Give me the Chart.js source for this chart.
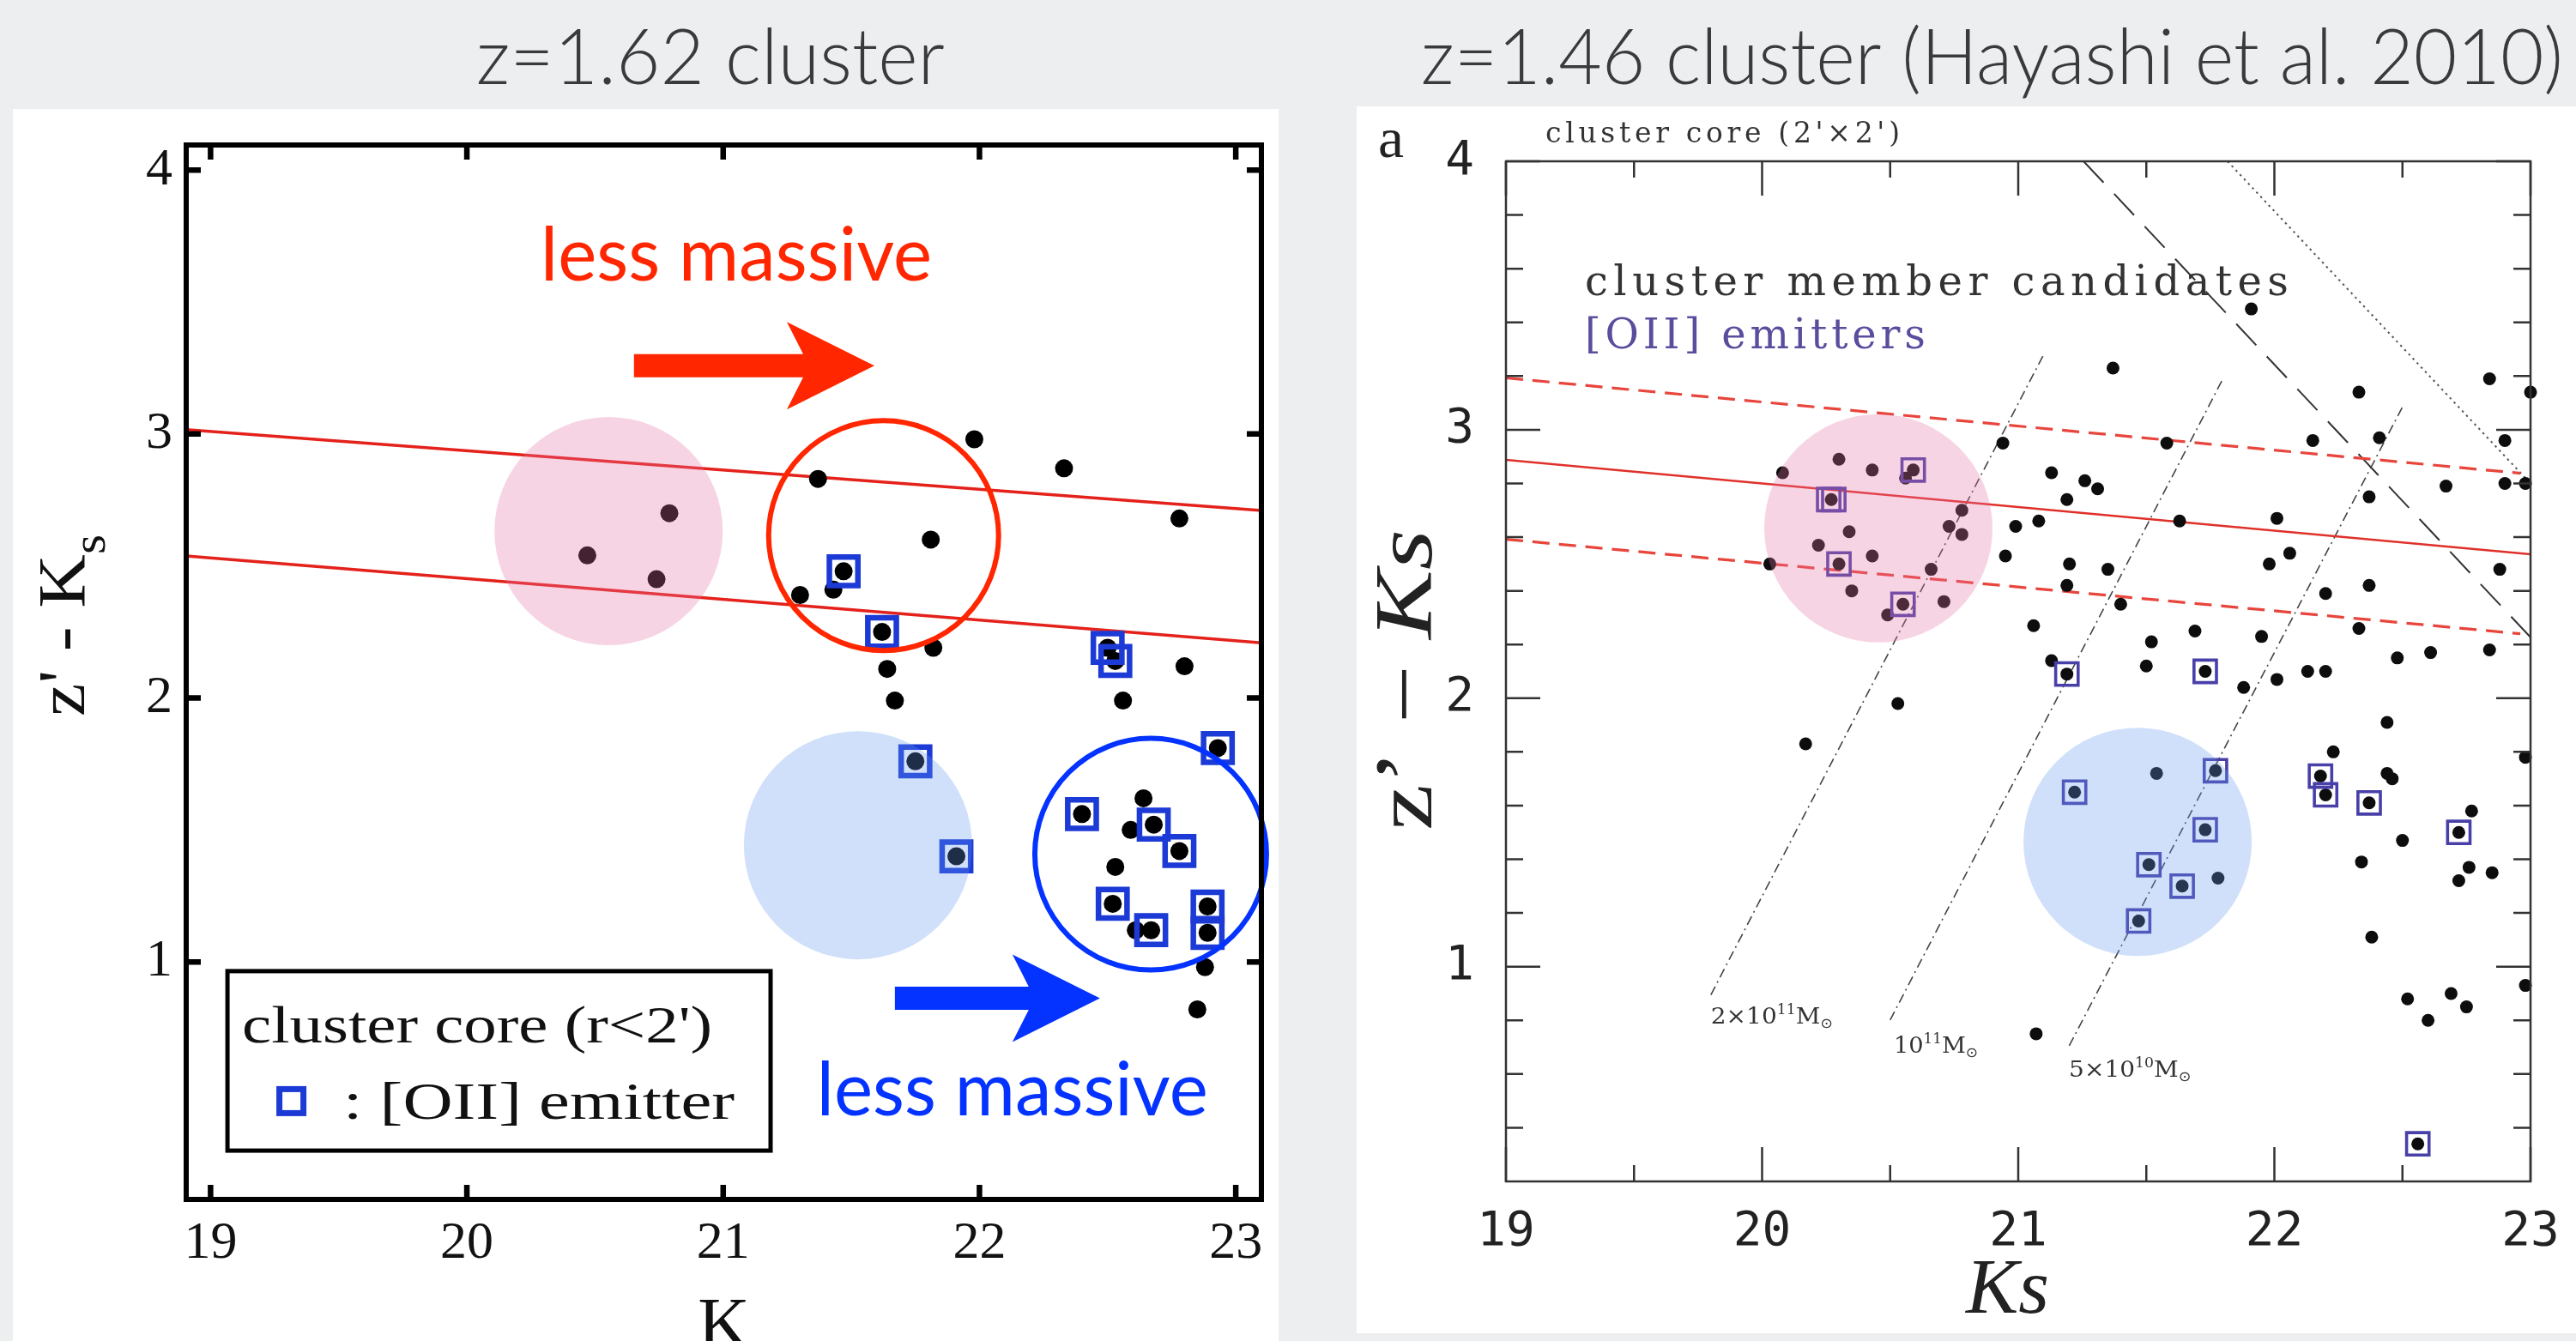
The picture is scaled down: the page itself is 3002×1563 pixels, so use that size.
<!DOCTYPE html>
<html>
<head>
<meta charset="utf-8">
<title>z' − Ks colour–magnitude diagrams</title>
<script src="https://cdn.jsdelivr.net/npm/chart.js@4.4.1/dist/chart.umd.min.js"></script>
<style>
  html, body { margin: 0; padding: 0; width: 3002px; height: 1563px; overflow: hidden; background: #eceef0; }
  #bg { position: absolute; left: 0; top: 0; }
  .panel { position: absolute; background: #fff; }
  #panelA { left: 15px; top: 127px; width: 1475px; height: 1436px; }
  #panelB { left: 1581px; top: 124px; width: 1421px; height: 1430px; }
  canvas { display: block; }
</style>
</head>
<body>
<canvas id="bg" width="3002" height="1563"></canvas>
<div class="panel" id="panelA"><canvas id="chartA" width="1475" height="1436"></canvas></div>
<div class="panel" id="panelB"><canvas id="chartB" width="1421" height="1430"></canvas></div>
<script>
// ================= z = 1.62 cluster =================
const kTicksA = [19, 20, 21, 22, 23];
const colourTicksA = [1, 2, 3, 4];

// cluster-core members (K, z'-Ks)
const memberK_A = [20.79, 20.47, 20.74, 21.98, 22.33, 21.37, 22.78, 21.81, 21.47, 21.43,
                   21.30, 21.62, 21.82, 22.50, 22.53, 22.80, 21.64, 21.67, 22.56, 21.75,
                   21.91, 22.93, 22.64, 22.40, 22.59, 22.68, 22.78, 22.53, 22.52, 22.61,
                   22.67, 22.89, 22.89, 22.88, 22.85];
const memberColour_A = [2.70, 2.54, 2.45, 2.98, 2.87, 2.83, 2.68, 2.60, 2.48, 2.41,
                        2.39, 2.25, 2.19, 2.19, 2.14, 2.12, 2.11, 1.99, 1.99, 1.76,
                        1.40, 1.81, 1.62, 1.56, 1.50, 1.52, 1.42, 1.36, 1.22, 1.12,
                        1.12, 1.21, 1.11, 0.98, 0.82];

// [OII] emitters
const oiiK_A = [21.47, 21.62, 22.50, 22.53, 21.75, 21.91, 22.93, 22.40, 22.68, 22.78, 22.52, 22.67, 22.89, 22.89];
const oiiColour_A = [2.48, 2.25, 2.19, 2.14, 1.76, 1.40, 1.81, 1.56, 1.52, 1.42, 1.22, 1.12, 1.21, 1.11];

// red-sequence band edges
const bandUpperK_A = [18.905, 23.1];
const bandUpperColour_A = [3.017, 2.71];
const bandLowerK_A = [18.905, 23.1];
const bandLowerColour_A = [2.538, 2.209];

// highlighted regions: massive red, faint blue star-forming, and their outlines
const shadeK_A = [20.553, 21.526];
const shadeColour_A = [2.632, 1.442];
const ringK_A = [21.626, 22.668];
const ringColour_A = [2.615, 1.408];

// ================= z = 1.46 cluster (Hayashi et al. 2010) =================
const kTicksB = [19, 20, 21, 22, 23];
const kMinorB = [19.5, 20.5, 21.5, 22.5];
const colourTicksB = [1, 2, 3, 4];
const colourMinorB = [0.4, 0.6, 0.8, 1.2, 1.4, 1.6, 1.8, 2.2, 2.4, 2.6, 2.8, 3.2, 3.4, 3.6, 3.8];

const memberK_B = [
  20.08, 20.30, 20.43, 20.59, 20.56, 20.27, 20.34, 20.22, 20.43, 20.30, 20.03, 20.35, 20.55, 20.49,
  20.66, 20.73, 20.78, 20.78, 20.71, 20.53, 20.17,
  21.91, 21.37, 22.84, 23.00, 22.33, 20.94, 21.58, 22.15, 22.41, 22.90, 21.13, 21.26, 21.31, 21.19,
  22.67, 22.90, 22.98, 22.37, 20.99, 21.08, 21.63, 22.01, 20.95, 21.20, 21.35, 22.06, 21.98, 22.88,
  21.19, 22.37, 22.20, 21.40, 21.06, 21.52, 21.69, 21.95, 22.33, 22.48, 22.61, 22.84, 21.13, 21.19,
  21.50, 21.73, 21.88, 22.01, 22.13, 22.20,
  22.18, 22.20, 22.23, 22.44, 22.44, 22.46, 22.37, 22.34, 22.50, 22.77, 22.72, 22.76, 22.72, 22.85,
  22.98, 22.38, 22.98, 22.52, 22.60, 22.69, 22.75, 21.07, 22.56,
  21.22, 21.54, 21.77, 21.73, 21.51, 21.78, 21.64, 21.47];
const memberColour_B = [
  2.84, 2.89, 2.85, 2.85, 2.82, 2.74, 2.62, 2.57, 2.53, 2.50, 2.50, 2.40, 2.35, 2.31,
  2.48, 2.64, 2.70, 2.61, 2.36, 1.98, 1.83,
  3.45, 3.23, 3.19, 3.14, 3.14, 2.95, 2.95, 2.96, 2.97, 2.96, 2.84, 2.81, 2.78, 2.74,
  2.79, 2.80, 2.80, 2.75, 2.64, 2.66, 2.66, 2.67, 2.53, 2.50, 2.48, 2.54, 2.50, 2.48,
  2.42, 2.42, 2.39, 2.35, 2.27, 2.21, 2.25, 2.23, 2.26, 2.15, 2.17, 2.18, 2.14, 2.09,
  2.12, 2.10, 2.04, 2.07, 2.10, 2.10,
  1.71, 1.64, 1.80, 1.91, 1.72, 1.70, 1.61, 1.39, 1.47, 1.58, 1.50, 1.37, 1.32, 1.35,
  1.78, 1.11, 0.93, 0.88, 0.80, 0.90, 0.85, 0.75, 0.34,
  1.65, 1.72, 1.73, 1.51, 1.38, 1.33, 1.30, 1.17];

const oiiK_B = [20.59, 20.26, 20.28, 20.30, 20.55, 21.19, 21.73, 22.18, 22.20, 22.37, 22.72, 22.56,
                21.22, 21.77, 21.73, 21.51, 21.64, 21.47];
const oiiColour_B = [2.85, 2.74, 2.74, 2.50, 2.35, 2.09, 2.10, 1.71, 1.64, 1.61, 1.50, 0.34,
                     1.65, 1.73, 1.51, 1.38, 1.30, 1.17];

// red-sequence fit and its scatter
const seqK_B = [19, 23];
const seqColour_B = [2.888, 2.536];
const seqUpperK_B = [19, 22.96];
const seqUpperColour_B = [3.193, 2.838];
const seqLowerK_B = [19, 22.96];
const seqLowerColour_B = [2.592, 2.240];

// model tracks of constant stellar mass
const track2e11K = [19.80, 21.096];
const track2e11Colour = [0.895, 3.274];
const track1e11K = [20.50, 21.797];
const track1e11Colour = [0.801, 3.186];
const track5e10K = [21.199, 22.499];
const track5e10Colour = [0.705, 3.083];

// completeness limits
const limitDashK = [21.255, 23.0];
const limitDashColour = [4.0, 2.227];
const limitDotK = [21.817, 23.0];
const limitDotColour = [4.0, 2.80];

// highlighted regions
const shadeK_B = [20.454, 21.466];
const shadeColour_B = [2.633, 1.465];

// ---------------------------------------------------------------------------
const pts = (xs, ys) => xs.map((x, i) => ({ x, y: ys[i] }));
const SERIF = '"Liberation Serif", "Times New Roman", serif';
const PINK = 'rgba(229,114,163,0.30)';
const SKY = 'rgba(100,152,238,0.30)';
const REGION_R = 133;

function fitText(ctx, text, x, y, w, font, color) {
  ctx.save();
  ctx.font = font;
  ctx.fillStyle = color;
  ctx.textBaseline = 'alphabetic';
  ctx.textAlign = 'left';
  const nat = ctx.measureText(text).width;
  ctx.translate(x, y);
  ctx.scale(w / nat, 1);
  ctx.fillText(text, 0, 0);
  ctx.restore();
}

function spacedText(ctx, text, x, y, w, font, color) {
  ctx.save();
  ctx.font = font;
  ctx.fillStyle = color;
  ctx.textBaseline = 'alphabetic';
  ctx.textAlign = 'left';
  ctx.letterSpacing = '0px';
  const nat = ctx.measureText(text).width;
  const sp = (w - nat) / Math.max(1, text.length - 1);
  if (sp >= 0) {
    ctx.letterSpacing = sp + 'px';
    ctx.fillText(text, x, y);
  } else {
    ctx.translate(x, y);
    ctx.scale(w / nat, 1);
    ctx.fillText(text, 0, 0);
  }
  ctx.restore();
}

// text made of runs with their own font and vertical shift, optionally rotated
function runsText(ctx, runs, x, y, opts) {
  ctx.save();
  ctx.fillStyle = opts.color || '#000';
  ctx.textBaseline = 'alphabetic';
  ctx.textAlign = 'left';
  let total = 0;
  const widths = runs.map(r => { ctx.font = r.font; const w = ctx.measureText(r.t).width; total += w; return w; });
  ctx.translate(x, y);
  if (opts.rot) ctx.rotate(opts.rot);
  if (opts.width) ctx.scale(opts.width / total, 1);
  let cx = 0;
  runs.forEach((r, i) => { ctx.font = r.font; ctx.fillText(r.t, cx, r.dy || 0); cx += widths[i]; });
  ctx.restore();
}

function drawArrow(ctx, x0, x1, y, color) {
  const half = 13.5, back = 102, notch = 83, wing = 51;
  ctx.save();
  ctx.fillStyle = color;
  ctx.beginPath();
  ctx.moveTo(x0, y - half);
  ctx.lineTo(x1 - notch, y - half);
  ctx.lineTo(x1 - back, y - wing);
  ctx.lineTo(x1, y);
  ctx.lineTo(x1 - back, y + wing);
  ctx.lineTo(x1 - notch, y + half);
  ctx.lineTo(x0, y + half);
  ctx.closePath();
  ctx.fill();
  ctx.restore();
}

function fixedAxis(min, max, ticks, fit, font, color, pad) {
  return {
    type: 'linear', min, max,
    afterBuildTicks: s => { s.ticks = ticks.map(v => ({ value: v })); },
    afterFit: s => {
      if (s.isHorizontal()) s.height = fit; else s.width = fit;
      s.paddingLeft = 0; s.paddingRight = 0; s.paddingTop = 0; s.paddingBottom = 0;
    },
    grid: { display: false, drawTicks: false },
    border: { display: false },
    ticks: { font, color, padding: pad, maxRotation: 0, autoSkip: false }
  };
}

// ---------- page titles ----------
(function () {
  const c = document.getElementById('bg').getContext('2d');
  c.fillStyle = '#eceef0';
  c.fillRect(0, 0, 3002, 1563);
  const f = '300 90px Lato, "Open Sans", sans-serif';
  fitText(c, 'z=1.62 cluster', 555, 98, 546, f, '#3a3a3a');
  fitText(c, 'z=1.46 cluster (Hayashi et al. 2010)', 1656, 98, 1331, f, '#3a3a3a');
})();

// ---------- left chart ----------
const notesA = {
  redArrow: { from: 20.652, to: 21.590, at: 3.259 },
  blueArrow: { from: 21.670, to: 22.470, at: 0.862 },
  redText: { k: 20.288, c: 3.581 },
  blueText: { k: 21.365, c: 0.418 },
  legend: { k0: 19.066, k1: 21.185, c0: 0.965, c1: 0.285 }
};

const decorA = {
  id: 'decorA',
  afterDatasetsDraw(chart) {
    const { ctx, scales: { x, y } } = chart;
    const X = v => x.getPixelForValue(v), Y = v => y.getPixelForValue(v);
    const n = notesA;
    drawArrow(ctx, X(n.redArrow.from), X(n.redArrow.to), Y(n.redArrow.at), '#ff2600');
    drawArrow(ctx, X(n.blueArrow.from), X(n.blueArrow.to), Y(n.blueArrow.at), '#0433ff');
    fitText(ctx, 'less massive', X(n.redText.k), Y(n.redText.c), 456, '400 88px Lato, sans-serif', '#ff2600');
    fitText(ctx, 'less massive', X(n.blueText.k), Y(n.blueText.c), 456, '400 88px Lato, sans-serif', '#0433ff');

    // legend box
    const L = X(n.legend.k0), R = X(n.legend.k1), T = Y(n.legend.c0), B = Y(n.legend.c1);
    ctx.save();
    ctx.fillStyle = '#fff';
    ctx.fillRect(L, T, R - L, B - T);
    ctx.lineWidth = 5;
    ctx.strokeStyle = '#000';
    ctx.strokeRect(L, T, R - L, B - T);
    ctx.restore();
    fitText(ctx, "cluster core (r<2')", L + 17, T + 83, 548, '62px ' + SERIF, '#111');
    ctx.save();
    ctx.strokeStyle = '#1c3ad6';
    ctx.lineWidth = 7;
    ctx.strokeRect(L + 74.5 - 14, T + 151.5 - 14, 28, 28);
    ctx.restore();
    fitText(ctx, ': [OII] emitter', L + 135, T + 172, 456, '62px ' + SERIF, '#111');
  },
  afterDraw(chart) {
    const { ctx, chartArea: a, scales: { x, y } } = chart;
    ctx.save();
    ctx.strokeStyle = '#000';
    ctx.lineWidth = 6;
    ctx.strokeRect(a.left, a.top, a.right - a.left, a.bottom - a.top);
    ctx.lineWidth = 6.5;
    ctx.beginPath();
    kTicksA.forEach(v => {
      const p = x.getPixelForValue(v);
      ctx.moveTo(p, a.bottom); ctx.lineTo(p, a.bottom - 17);
      ctx.moveTo(p, a.top); ctx.lineTo(p, a.top + 17);
    });
    colourTicksA.forEach(v => {
      const p = y.getPixelForValue(v);
      ctx.moveTo(a.left, p); ctx.lineTo(a.left + 17, p);
      ctx.moveTo(a.right, p); ctx.lineTo(a.right - 17, p);
    });
    ctx.stroke();
    ctx.restore();

    // axis titles
    runsText(ctx, [
      { t: "z' - K", font: '79px ' + SERIF },
      { t: 's', font: '54px ' + SERIF, dy: 24 }
    ], a.left - 119, a.top + 666, { rot: -Math.PI / 2, width: 212, color: '#111' });
    ctx.save();
    ctx.font = '84px ' + SERIF;
    ctx.fillStyle = '#111';
    ctx.textAlign = 'center';
    ctx.textBaseline = 'alphabetic';
    ctx.fillText('K', (a.left + a.right) / 2, a.bottom + 173);
    ctx.restore();
  }
};

new Chart(document.getElementById('chartA'), {
  type: 'scatter',
  data: {
    datasets: [
      { label: 'red sequence upper', data: pts(bandUpperK_A, bandUpperColour_A), showLine: true,
        borderColor: '#e4211a', borderWidth: 3.5, pointRadius: 0, order: 6 },
      { label: 'red sequence lower', data: pts(bandLowerK_A, bandLowerColour_A), showLine: true,
        borderColor: '#e4211a', borderWidth: 3.5, pointRadius: 0, order: 6 },
      { label: 'cluster core (r<2\')', data: pts(memberK_A, memberColour_A), pointStyle: 'circle',
        pointRadius: 10.5, backgroundColor: '#000', borderWidth: 0, clip: false, order: 5 },
      { label: '[OII] emitter', data: pts(oiiK_A, oiiColour_A), pointStyle: 'rect',
        pointRadius: 23.5, borderWidth: 6.5, borderColor: '#1c3ad6', backgroundColor: 'rgba(0,0,0,0)',
        clip: false, order: 4 },
      { type: 'bubble', label: 'massive', data: [{ x: shadeK_A[0], y: shadeColour_A[0], r: REGION_R }],
        backgroundColor: PINK, borderWidth: 0, clip: false, order: 3 },
      { type: 'bubble', label: 'faint', data: [{ x: shadeK_A[1], y: shadeColour_A[1], r: REGION_R }],
        backgroundColor: SKY, borderWidth: 0, clip: false, order: 3 },
      { type: 'bubble', label: 'red ring', data: [{ x: ringK_A[0], y: ringColour_A[0], r: 134 }],
        backgroundColor: 'rgba(0,0,0,0)', borderColor: '#ff2600', borderWidth: 6, clip: false, order: 2 },
      { type: 'bubble', label: 'blue ring', data: [{ x: ringK_A[1], y: ringColour_A[1], r: 135 }],
        backgroundColor: 'rgba(0,0,0,0)', borderColor: '#0433ff', borderWidth: 6, clip: false, order: 2 }
    ]
  },
  options: {
    responsive: false, animation: false, devicePixelRatio: 1, events: [],
    layout: { autoPadding: false, padding: { left: 0, top: 42, right: 20, bottom: 0 } },
    plugins: { legend: { display: false }, tooltip: { enabled: false } },
    scales: {
      x: fixedAxis(18.905, 23.1, kTicksA, 165, { family: SERIF, size: 62 }, '#111', 15),
      y: fixedAxis(0.1, 4.095, colourTicksA, 202, { family: SERIF, size: 62 }, '#111', 16)
    }
  },
  plugins: [decorA]
});

// ---------- right chart ----------
const notesB = {
  mass2e11: { k: 19.80, c: 0.788 },
  mass1e11: { k: 20.514, c: 0.680 },
  mass5e10: { k: 21.198, c: 0.590 }
};
const MONO = '"DejaVu Sans Mono", monospace';
const HERSHEY = '"DejaVu Serif", serif';

function massLabel(ctx, lead, exp, x, y, w) {
  runsText(ctx, [
    { t: lead, font: '26px ' + HERSHEY },
    { t: exp, font: '16px ' + HERSHEY, dy: -11 },
    { t: 'M', font: '26px ' + HERSHEY },
    { t: '\u2299', font: '16px "DejaVu Sans", sans-serif', dy: 5 }
  ], x, y, { width: w, color: '#333' });
}

const decorB = {
  id: 'decorB',
  afterDraw(chart) {
    const { ctx, chartArea: a, scales: { x, y } } = chart;
    const X = v => x.getPixelForValue(v), Y = v => y.getPixelForValue(v);
    ctx.save();
    ctx.strokeStyle = '#333';
    ctx.lineWidth = 2.5;
    ctx.strokeRect(a.left, a.top, a.right - a.left, a.bottom - a.top);
    ctx.beginPath();
    const xt = (v, len) => {
      const p = X(v);
      ctx.moveTo(p, a.bottom); ctx.lineTo(p, a.bottom - len);
      ctx.moveTo(p, a.top); ctx.lineTo(p, a.top + len);
    };
    const yt = (v, len) => {
      const p = Y(v);
      ctx.moveTo(a.left, p); ctx.lineTo(a.left + len, p);
      ctx.moveTo(a.right, p); ctx.lineTo(a.right - len, p);
    };
    kTicksB.forEach(v => xt(v, 40));
    kMinorB.forEach(v => xt(v, 19));
    colourTicksB.forEach(v => yt(v, 40));
    colourMinorB.forEach(v => yt(v, 20));
    ctx.stroke();
    ctx.restore();

    // annotations
    fitText(ctx, 'a', a.left - 149, a.top - 5, 30, '66px ' + SERIF, '#222');
    spacedText(ctx, "cluster core (2'\u00d72')", a.left + 46, a.top - 22, 413, '33px ' + HERSHEY, '#333');
    spacedText(ctx, 'cluster member candidates', a.left + 92, a.top + 156, 820, '48px ' + HERSHEY, '#333');
    spacedText(ctx, '[OII] emitters', a.left + 92, a.top + 218, 397, '48px ' + HERSHEY, '#5b4c9e');
    massLabel(ctx, '2\u00d710', '11', X(notesB.mass2e11.k), Y(notesB.mass2e11.c), 142);
    massLabel(ctx, '10', '11', X(notesB.mass1e11.k), Y(notesB.mass1e11.c), 98);
    massLabel(ctx, '5\u00d710', '10', X(notesB.mass5e10.k), Y(notesB.mass5e10.c), 142);

    // axis titles
    runsText(ctx, [
      { t: 'z\u2019', font: '96px ' + SERIF },
      { t: ' \u2212 ', font: '96px ' + SERIF },
      { t: 'Ks', font: 'italic 96px ' + SERIF }
    ], a.left - 87, a.top + 780, { rot: -Math.PI / 2, width: 351, color: '#222' });
    ctx.save();
    ctx.font = 'italic 92px ' + SERIF;
    ctx.fillStyle = '#222';
    ctx.textAlign = 'left';
    ctx.textBaseline = 'alphabetic';
    ctx.fillText('Ks', a.left + 536, a.bottom + 153);
    ctx.restore();
  }
};

const lineSet = (label, xs, ys, color, width, dash, order) => ({
  label, data: pts(xs, ys), showLine: true, borderColor: color, borderWidth: width,
  borderDash: dash, pointRadius: 0, order
});

new Chart(document.getElementById('chartB'), {
  type: 'scatter',
  data: {
    datasets: [
      lineSet('red sequence', seqK_B, seqColour_B, '#e0302a', 2.5, [], 7),
      lineSet('red sequence +', seqUpperK_B, seqUpperColour_B, '#e8453c', 3.2, [20, 11], 7),
      lineSet('red sequence -', seqLowerK_B, seqLowerColour_B, '#e8453c', 3.2, [20, 11], 7),
      lineSet('2e11', track2e11K, track2e11Colour, '#444', 1.6, [11, 5, 2, 5], 7),
      lineSet('1e11', track1e11K, track1e11Colour, '#444', 1.6, [11, 5, 2, 5], 7),
      lineSet('5e10', track5e10K, track5e10Colour, '#444', 1.6, [11, 5, 2, 5], 7),
      lineSet('limit', limitDashK, limitDashColour, '#333', 2, [34, 18], 7),
      lineSet('limit dotted', limitDotK, limitDotColour, '#555', 2, [2.5, 4.5], 7),
      { label: 'cluster member candidates', data: pts(memberK_B, memberColour_B), pointStyle: 'circle',
        pointRadius: 7.5, backgroundColor: '#0d0d0d', borderWidth: 0, clip: false, order: 5 },
      { label: '[OII] emitters', data: pts(oiiK_B, oiiColour_B), pointStyle: 'rect',
        pointRadius: 18.5, borderWidth: 3.6, borderColor: '#4840a8', backgroundColor: 'rgba(0,0,0,0)',
        clip: false, order: 4 },
      { type: 'bubble', label: 'massive', data: [{ x: shadeK_B[0], y: shadeColour_B[0], r: REGION_R }],
        backgroundColor: PINK, borderWidth: 0, clip: false, order: 3 },
      { type: 'bubble', label: 'faint', data: [{ x: shadeK_B[1], y: shadeColour_B[1], r: REGION_R }],
        backgroundColor: SKY, borderWidth: 0, clip: false, order: 3 }
    ]
  },
  options: {
    responsive: false, animation: false, devicePixelRatio: 1, events: [],
    layout: { autoPadding: false, padding: { left: 0, top: 64, right: 53, bottom: 0 } },
    plugins: { legend: { display: false }, tooltip: { enabled: false } },
    scales: {
      x: fixedAxis(19, 23, kTicksB, 177, { family: MONO, size: 56 }, '#222', 26),
      y: fixedAxis(0.2, 4.0, colourTicksB, 174, { family: MONO, size: 56 }, '#222', 37)
    }
  },
  plugins: [decorB]
});
</script>
</body>
</html>
